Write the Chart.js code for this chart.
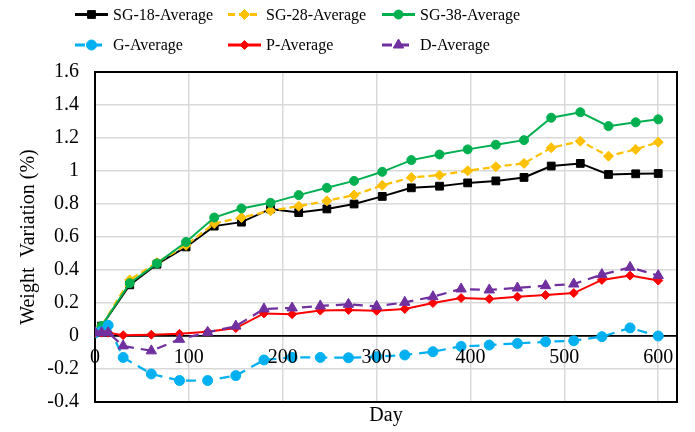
<!DOCTYPE html>
<html>
<head>
<meta charset="utf-8">
<script src="https://cdn.jsdelivr.net/npm/chart.js@4/dist/chart.umd.min.js"></script>
<style>
  html, body { margin: 0; padding: 0; background: #fff; }
  #wrap { width: 695px; height: 432px; }
</style>
</head>
<body>
<div id="wrap"><canvas id="c" width="695" height="432"></canvas></div>
<script>
// Measurement days for the SG mixes
const sgDays = [0, 7, 37, 66, 97, 127, 156, 187, 217, 247, 276, 306, 337, 367, 397, 427, 457, 486, 517, 547, 576, 600];
const sg18 = [0.02, 0.06, 0.31, 0.435, 0.54, 0.666, 0.69, 0.77, 0.748, 0.77, 0.80, 0.846, 0.898, 0.908, 0.928, 0.94, 0.961, 1.03, 1.046, 0.979, 0.983, 0.985];
const sg28 = [0.02, 0.06, 0.34, 0.445, 0.55, 0.682, 0.718, 0.759, 0.787, 0.819, 0.854, 0.913, 0.961, 0.975, 1.001, 1.026, 1.046, 1.141, 1.181, 1.09, 1.131, 1.175];
const sg38 = [0.02, 0.06, 0.32, 0.44, 0.57, 0.718, 0.773, 0.807, 0.854, 0.898, 0.94, 0.995, 1.066, 1.10, 1.131, 1.159, 1.187, 1.323, 1.356, 1.272, 1.295, 1.313];

// Measurement days for the G, P and D mixes
const refDays = [0, 7, 14, 30, 60, 90, 120, 150, 180, 210, 240, 270, 300, 330, 360, 390, 420, 450, 480, 510, 540, 570, 600];
const gAvg = [0.02, 0.03, 0.065, -0.13, -0.23, -0.27, -0.27, -0.24, -0.145, -0.13, -0.13, -0.132, -0.125, -0.115, -0.095, -0.063, -0.055, -0.045, -0.035, -0.029, -0.004, 0.049, 0.0];
const pAvg = [0.02, 0.02, 0.02, 0.005, 0.008, 0.013, 0.026, 0.048, 0.137, 0.132, 0.154, 0.158, 0.153, 0.164, 0.20, 0.23, 0.225, 0.238, 0.248, 0.26, 0.34, 0.366, 0.336];
const dAvg = [0.02, 0.02, 0.02, -0.06, -0.09, -0.02, 0.022, 0.06, 0.164, 0.17, 0.182, 0.192, 0.18, 0.204, 0.238, 0.285, 0.279, 0.291, 0.305, 0.315, 0.372, 0.416, 0.366];

const seriesNames = ['SG-18-Average', 'SG-28-Average', 'SG-38-Average', 'G-Average', 'P-Average', 'D-Average'];
const yTickValues = [-0.4, -0.2, 0, 0.2, 0.4, 0.6, 0.8, 1, 1.2, 1.4, 1.6];
const xTickValues = [0, 100, 200, 300, 400, 500, 600];

const SERIF = "'Liberation Serif', 'Times New Roman', serif";
Chart.defaults.font.family = SERIF;
Chart.defaults.color = '#000';

const toPoints = (days, vals) => days.map((d, i) => ({ x: d, y: vals[i] }));

function series(label, days, vals, color, style, radius, width, dash, order) {
  return {
    label, data: toPoints(days, vals),
    borderColor: color, backgroundColor: color,
    pointBackgroundColor: color, pointBorderColor: color,
    pointStyle: style, pointRadius: radius, pointBorderWidth: 1,
    borderWidth: width, borderDash: dash, tension: 0, order
  };
}

// Key drawn in two rows of three fixed columns above the plot
const KEY_COLS = [75, 228, 382];
const KEY_ROWS = [14.5, 45];
const KEY_LINE = 33;

const seriesKey = {
  id: 'seriesKey',
  afterDraw(chart) {
    const ctx = chart.ctx;
    chart.data.datasets.forEach((ds, i) => {
      const x0 = KEY_COLS[i % 3];
      const y = KEY_ROWS[Math.floor(i / 3)];
      ctx.save();
      ctx.strokeStyle = ds.borderColor;
      ctx.lineWidth = 3;
      ctx.setLineDash(ds.borderDash || []);
      ctx.beginPath();
      ctx.moveTo(x0, y);
      ctx.lineTo(x0 + KEY_LINE, y);
      ctx.stroke();
      ctx.setLineDash([]);
      ctx.fillStyle = ds.pointBackgroundColor;
      ctx.strokeStyle = ds.pointBorderColor;
      ctx.lineWidth = 1;
      Chart.helpers.drawPoint(ctx, { pointStyle: ds.pointStyle, radius: ds.pointRadius, rotation: 0, borderWidth: 1 }, x0 + KEY_LINE / 2, y);
      ctx.fillStyle = '#000';
      ctx.font = '16px ' + SERIF;
      ctx.textAlign = 'left';
      ctx.textBaseline = 'middle';
      ctx.fillText(ds.label, x0 + KEY_LINE + 5, y + 1);
      ctx.restore();
    });
  }
};

// Black frame round the plot area
const plotFrame = {
  id: 'plotFrame',
  beforeDatasetsDraw(chart) {
    const { ctx, chartArea: a } = chart;
    ctx.save();
    ctx.strokeStyle = '#000';
    ctx.lineWidth = 2;
    ctx.strokeRect(a.left, a.top, a.right - a.left, a.bottom - a.top);
    ctx.restore();
  }
};

new Chart(document.getElementById('c'), {
  type: 'line',
  data: {
    datasets: [
      series(seriesNames[0], sgDays, sg18, '#000000', 'rect', 5.5, 2, [], 6),
      series(seriesNames[1], sgDays, sg28, '#FFC000', 'rectRot', 5, 2.25, [7, 4], 5),
      series(seriesNames[2], sgDays, sg38, '#00B050', 'circle', 4.5, 2, [], 4),
      series(seriesNames[3], refDays, gAvg, '#00B0F0', 'circle', 5, 2.25, [10, 7], 3),
      series(seriesNames[4], refDays, pAvg, '#FF0000', 'rectRot', 4.5, 2, [], 2),
      series(seriesNames[5], refDays, dAvg, '#7030A0', 'triangle', 6, 2.25, [10, 7], 1)
    ]
  },
  options: {
    responsive: false,
    animation: false,
    layout: { padding: { top: 72, right: 18, left: 0, bottom: 0 } },
    plugins: { legend: { display: false }, tooltip: { enabled: false } },
    scales: {
      x: {
        type: 'linear',
        position: { y: 0 },
        min: 0, max: 620,
        afterBuildTicks: s => { s.ticks = xTickValues.map(v => ({ value: v })); },
        ticks: { font: { size: 20 }, color: '#000', padding: 10, z: 1, maxRotation: 0, autoSkip: false, callback: v => String(v) },
        grid: { color: '#d9d9d9', lineWidth: 1.5, drawTicks: false },
        border: { color: '#000', width: 1.75 }
      },
      x2: {
        type: 'linear',
        position: 'bottom',
        min: 0, max: 620,
        afterFit: s => { s.height = 30; },
        grid: { display: false },
        border: { display: false },
        ticks: { display: false },
        title: { display: true, text: 'Day', font: { size: 20 }, color: '#000', padding: { top: 0, bottom: 4 } }
      },
      y: {
        min: -0.4, max: 1.6,
        afterFit: s => { s.width = 95; },
        afterBuildTicks: s => { s.ticks = yTickValues.map(v => ({ value: v })); },
        ticks: { font: { size: 20 }, color: '#000', padding: 16, callback: v => String(Math.round(v * 10) / 10) },
        grid: { color: '#d9d9d9', lineWidth: 1.5, drawTicks: false },
        border: { display: false },
        title: { display: true, text: 'Weight  Variation (%)', font: { size: 20 }, color: '#000', padding: { top: 17, bottom: 0 } }
      }
    }
  },
  plugins: [plotFrame, seriesKey]
});
</script>
</body>
</html>
